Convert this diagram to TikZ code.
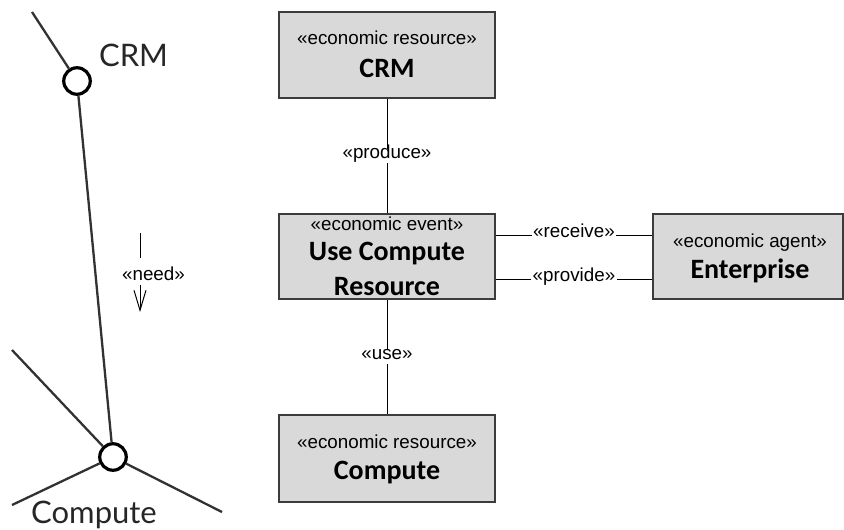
\documentclass[tikz,border=0pt]{standalone}
\usepackage{fontspec}
\setmainfont{Liberation Sans}
\newfontfamily\calfont{Carlito}
\newfontfamily\gillfont{Lato}
\usetikzlibrary{arrows.meta}
\definecolor{boxfill}{RGB}{217,217,217}
\definecolor{boxline}{RGB}{60,60,60}
\definecolor{leggray}{RGB}{50,50,50}
\begin{document}
\begin{tikzpicture}[x=1pt,y=-1pt,
  box/.style={draw=boxline, fill=boxfill, line width=1.2pt, minimum width=216pt, minimum height=86pt, inner sep=0pt},
  stereo/.style={font=\fontsize{18.8}{22}\selectfont, anchor=base, inner sep=0pt},
  title/.style={font=\calfont\bfseries\fontsize{28}{32}\selectfont, anchor=base, inner sep=0pt},
  lbl/.style={font=\fontsize{18.8}{22}\selectfont, fill=white, inner xsep=1.5pt, inner ysep=2pt, text height=0.75em, text depth=0.25em},
  conn/.style={draw=black, line width=1pt},
  leg/.style={draw=leggray, line width=2.3pt},
  port/.style={circle, draw=black, fill=white, line width=3.2pt, minimum size=26.5pt, inner sep=0pt},
  legtext/.style={font=\gillfont\fontsize{31}{35}\selectfont, anchor=base, inner sep=0pt, text=black!85}]
\useasboundingbox (0,0) rectangle (844,530);

% ---- left sketch ----
\coordinate (c1) at (32,12);
\coordinate (k1) at (12,350);
\coordinate (k2) at (12,505);
\coordinate (k3) at (222,512);
\node[port] (pc) at (77,81) {};
\node[port] (pk) at (113,457) {};
\draw[leg] (c1) -- (pc);
\draw[leg] (pc) -- (pk);
\draw[leg] (k1) -- (pk);
\draw[leg] (k2) -- (pk);
\draw[leg] (pk) -- (k3);
\node[legtext] (lcrm) at (133.5,66) {CRM};
\node[legtext] (lcmp) at (94,523) {Compute};

\node[stereo] (need) at (153.5,280) {«need»};
\coordinate (n1) at (140,233);
\coordinate (n2) at (140,258);
\coordinate (n3) at (140,285);
\coordinate (n4) at (140,312);
\draw[conn] (n1) -- (n2);
\draw[conn, -{Straight Barb[length=20pt,width=12pt]}] (n3) -- (n4);

% ---- boxes ----
\node[box] (crm) at (387,55) {};
\node[box, minimum height=85pt] (evt) at (387,256.5) {};
\node[box, minimum height=87pt] (cmp) at (387,458.5) {};
\node[box, minimum width=190pt, minimum height=85pt] (ent) at (748,256.5) {};

\node[stereo] (crm-s) at (387,45) {«economic resource»};
\node[title] (crm-t) at (387,77) {CRM};
\node[stereo] (evt-s) at (387,230) {«economic event»};
\node[title] (evt-t1) at (387,260) {Use Compute};
\node[title] (evt-t2) at (387,295) {Resource};
\node[stereo] (cmp-s) at (387,448) {«economic resource»};
\node[title] (cmp-t) at (387,479) {Compute};
\node[stereo] (ent-s) at (750,247) {«economic agent»};
\node[title] (ent-t) at (750,278) {Enterprise};

% ---- connectors ----
\draw[conn] (crm.south) -- node[lbl] (lprod) {«produce»} (evt.north);
\draw[conn] (evt.south) -- node[lbl] (luse) {«use»} (cmp.north);
\draw[conn] ([yshift=21.5pt]evt.east) -- node[lbl] (lrec) {«receive»} ([yshift=21.5pt]ent.west);
\draw[conn] ([yshift=-22.5pt]evt.east) -- node[lbl] (lprov) {«provide»} ([yshift=-22.5pt]ent.west);
\end{tikzpicture}
\end{document}
